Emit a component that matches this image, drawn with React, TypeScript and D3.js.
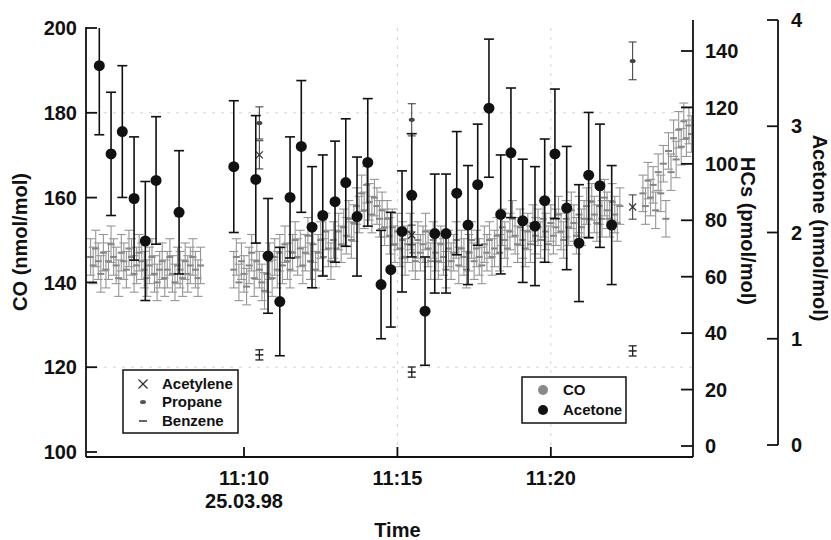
import React from 'react';
import * as d3 from 'd3';

const parseTime = d3.timeParse('%H:%M:%S');

// CO (nmol/mol), 5 s samples, three continuous stretches
const coStarts = ['11:05:00', '11:09:40', '11:23:00'];
const coStep = 5; // seconds
const coSegment1 = [
  146, 144, 148, 145, 142, 147, 143, 145, 149, 146, 144, 141, 147, 145, 143, 148, 146, 142, 144, 147,
  145, 143, 141, 144, 146, 142, 140, 143, 145, 141, 143, 146, 142, 140, 144, 143, 141, 145, 142, 144,
  146, 143, 141, 144,
];
const coSegment2 = [
  143, 146, 140, 145, 142, 139, 144, 147, 141, 145, 143, 140, 138, 142, 145, 141, 146, 143, 147, 144,
  149, 145, 143, 147, 150, 146, 148, 144, 147, 151, 145, 149, 143, 147, 150, 146, 152, 148, 145, 150,
  148, 152, 149, 153, 151, 155, 150, 154, 158, 156, 161, 157, 163, 159, 156, 160, 158, 155, 157, 153,
  155, 151, 153, 149, 152, 148, 150, 146, 149, 152, 147, 145, 150, 147, 149, 152, 148, 145, 150, 147,
  145, 149, 146, 143, 148, 145, 147, 150, 144, 148, 146, 143, 147, 150, 145, 148, 146, 144, 149, 147,
  150, 146, 148, 151, 147, 153, 150, 148, 152, 155, 151, 149, 153, 150, 148, 152, 149, 154, 151, 153,
  150, 155, 152, 149, 154, 151, 153, 156, 152, 150, 155, 153, 157, 154, 151, 156, 153, 155, 158, 155,
  159, 156, 154, 158, 155, 160, 157, 155, 159, 156, 154, 158,
];
const coSegment3 = [161, 158, 164, 160, 163, 157, 166, 161, 168, 155, 171, 166, 174, 169, 176, 172, 178, 174, 177, 175];
const coError = 4.3;

// Acetone (nmol/mol)
const acetoneTimes = [
  '11:05:17', '11:05:40', '11:06:02', '11:06:25', '11:06:47', '11:07:08', '11:07:53', '11:09:40', '11:10:23', '11:10:47',
  '11:11:10', '11:11:30', '11:11:52', '11:12:13', '11:12:34', '11:12:58', '11:13:19', '11:13:41', '11:14:02', '11:14:28',
  '11:14:47', '11:15:09', '11:15:28', '11:15:54', '11:16:13', '11:16:35', '11:16:56', '11:17:18', '11:17:37', '11:17:59',
  '11:18:22', '11:18:42', '11:19:05', '11:19:29', '11:19:48', '11:20:08', '11:20:31', '11:20:55', '11:21:14', '11:21:36',
  '11:21:59',
];
const acetoneValues = [
  3.57, 2.74, 2.95, 2.32, 1.92, 2.49, 2.19, 2.62, 2.5, 1.78,
  1.35, 2.33, 2.81, 2.05, 2.16, 2.29, 2.47, 2.15, 2.66, 1.51,
  1.65, 2.01, 2.35, 1.26, 1.99, 1.99, 2.37, 2.07, 2.45, 3.17,
  2.17, 2.75, 2.11, 2.06, 2.3, 2.74, 2.23, 1.9, 2.54, 2.44,
  2.07,
];
const acetoneErrors = [
  0.65, 0.58, 0.62, 0.58, 0.56, 0.6, 0.58, 0.62, 0.6, 0.54,
  0.51, 0.57, 0.62, 0.57, 0.57, 0.57, 0.6, 0.56, 0.6, 0.51,
  0.54, 0.57, 0.58, 0.51, 0.56, 0.56, 0.58, 0.56, 0.57, 0.65,
  0.56, 0.61, 0.58, 0.56, 0.58, 0.61, 0.58, 0.55, 0.59, 0.58,
  0.56,
];

// hydrocarbons (pmol/mol), canister samples
const hcTimes = ['11:10:30', '11:15:28', '11:22:40'];
const acetylene = [103.2, 74.8, 84.7];
const acetyleneErr = [5.0, 3.5, 4.3];
const propane = [114.5, 115.6, 136.5];
const propaneErr = [5.7, 5.7, 6.7];
const benzene = [32.3, 26.2, 33.7];
const benzeneErr = [1.8, 1.8, 1.8];

const coTicks = [100, 120, 140, 160, 180, 200];
const hcTicks = [0, 20, 40, 60, 80, 100, 120, 140];
const acetoneTicks = [0, 1, 2, 3, 4];
const timeTicks = ['11:10:00', '11:15:00', '11:20:00'];

const font = '"Liberation Sans", Arial, Helvetica, sans-serif';

export default function App() {
  const x = d3.scaleTime()
    .domain([parseTime('11:04:51'), parseTime('11:24:38')])
    .range([86, 693]);
  const yCO = d3.scaleLinear().domain([100, 200]).range([452, 28]);
  const yHC = d3.scaleLinear().domain([0, 140]).range([446, 51]);
  const yAc = d3.scaleLinear().domain([0, 4]).range([445, 20]);

  const left = 86, right = 693, bottom = 457, acAxisX = 778;

  const coPoints = [];
  [coSegment1, coSegment2, coSegment3].forEach((seg, s) => {
    const start = parseTime(coStarts[s]);
    seg.forEach((v, i) => {
      coPoints.push({ t: d3.timeSecond.offset(start, i * coStep), v });
    });
  });

  const errBar = (cx, y0, y1, cap, color, w, key) => (
    <g key={key} stroke={color} strokeWidth={w} fill="none">
      <line x1={cx} x2={cx} y1={y0} y2={y1} />
      <line x1={cx - cap} x2={cx + cap} y1={y0} y2={y0} />
      <line x1={cx - cap} x2={cx + cap} y1={y1} y2={y1} />
    </g>
  );

  const cross = (cx, cy, r, key) => (
    <g key={key} stroke="#333" strokeWidth={1.2}>
      <line x1={cx - r} x2={cx + r} y1={cy - r} y2={cy + r} />
      <line x1={cx - r} x2={cx + r} y1={cy + r} y2={cy - r} />
    </g>
  );

  return (
    <svg width={831} height={540} style={{ position: 'absolute', left: 0, top: 0, background: '#fff' }}
      fontFamily={font} fontWeight="bold">
      <defs>
        <clipPath id="plot">
          <rect x={left} y={28} width={right - left} height={bottom - 28} />
        </clipPath>
      </defs>

      {/* faint grid */}
      <g stroke="#d4d4d4" strokeWidth={1} strokeDasharray="3,6">
        {[120, 180].map(v => <line key={v} x1={left} x2={right} y1={yCO(v)} y2={yCO(v)} />)}
        {timeTicks.slice(1).map(t => <line key={t} x1={x(parseTime(t))} x2={x(parseTime(t))} y1={28} y2={bottom} />)}
      </g>

      <g clipPath="url(#plot)">
        {/* CO cloud */}
        {coPoints.map((p, i) => {
          const cx = x(p.t);
          return (
            <g key={'co' + i}>
              {errBar(cx, yCO(p.v + coError), yCO(p.v - coError), 4.5, '#969696', 1.1, 'e')}
              <line x1={cx - 3.5} x2={cx + 3.5} y1={yCO(p.v)} y2={yCO(p.v)} stroke="#848484" strokeWidth={2} />
            </g>
          );
        })}

        {/* hydrocarbons */}
        {hcTimes.map((t, i) => {
          const cx = x(parseTime(t));
          return (
            <g key={'hc' + i}>
              {errBar(cx, yHC(propane[i] + propaneErr[i]), yHC(propane[i] - propaneErr[i]), 4, '#333', 1, 'pe')}
              <ellipse cx={cx} cy={yHC(propane[i])} rx={3} ry={2} fill="#444" />
              {errBar(cx, yHC(acetylene[i] + acetyleneErr[i]), yHC(acetylene[i] - acetyleneErr[i]), 4, '#333', 1, 'ae')}
              {cross(cx, yHC(acetylene[i]), 3.5, 'ax')}
              {errBar(cx, yHC(benzene[i] + benzeneErr[i]), yHC(benzene[i] - benzeneErr[i]), 4, '#222', 1.3, 'be')}
              <line x1={cx - 4} x2={cx + 4} y1={yHC(benzene[i])} y2={yHC(benzene[i])} stroke="#222" strokeWidth={1.5} />
            </g>
          );
        })}

        {/* acetone */}
        {acetoneTimes.map((t, i) => {
          const cx = x(parseTime(t));
          const v = acetoneValues[i], e = acetoneErrors[i];
          return (
            <g key={'ac' + i}>
              {errBar(cx, yAc(v + e), yAc(v - e), 5, '#111', 1.6, 'e')}
              <circle cx={cx} cy={yAc(v)} r={5.5} fill="#111" />
            </g>
          );
        })}
      </g>

      {/* axes */}
      <g stroke="#111" strokeWidth={1.8}>
        <line x1={left} x2={left} y1={27} y2={bottom} />
        <line x1={left} x2={right} y1={bottom} y2={bottom} />
        <line x1={right} x2={right} y1={20} y2={bottom} />
        <line x1={acAxisX} x2={acAxisX} y1={yAc(4)} y2={yAc(0)} />
        {coTicks.map(v => <line key={'ct' + v} x1={left} x2={left + 11} y1={yCO(v)} y2={yCO(v)} />)}
        {hcTicks.map(v => <line key={'ht' + v} x1={right - 12} x2={right} y1={yHC(v)} y2={yHC(v)} />)}
        {acetoneTicks.map(v => <line key={'at' + v} x1={acAxisX - 11} x2={acAxisX} y1={yAc(v)} y2={yAc(v)} />)}
        {timeTicks.map(t => <line key={'tt' + t} x1={x(parseTime(t))} x2={x(parseTime(t))} y1={bottom - 10} y2={bottom} />)}
      </g>

      <g fontSize={20} fill="#111">
        {coTicks.map(v => (
          <text key={'cl' + v} x={77} y={yCO(v)} dy="0.36em" textAnchor="end">{v}</text>
        ))}
        {hcTicks.map(v => (
          <text key={'hl' + v} x={705} y={yHC(v)} dy="0.36em">{v}</text>
        ))}
        {acetoneTicks.map(v => (
          <text key={'al' + v} x={791} y={yAc(v)} dy="0.36em">{v}</text>
        ))}
        {timeTicks.map(t => (
          <text key={'xl' + t} x={x(parseTime(t))} y={485} textAnchor="middle">{d3.timeFormat('%H:%M')(parseTime(t))}</text>
        ))}
        <text x={x(parseTime(timeTicks[0]))} y={508} textAnchor="middle">25.03.98</text>
        <text x={x(parseTime(timeTicks[1]))} y={537} textAnchor="middle">Time</text>
      </g>

      <g fontSize={20} fill="#111">
        <text transform="translate(27,242) rotate(-90)" textAnchor="middle">CO (nmol/mol)</text>
        <text transform="translate(741,231) rotate(90)" textAnchor="middle">HCs (pmol/mol)</text>
        <text transform="translate(813,228) rotate(90)" textAnchor="middle">Acetone (nmol/mol)</text>
      </g>

      {/* legend: hydrocarbons */}
      <g>
        <rect x={123} y={370} width={115} height={63} fill="#fff" stroke="#111" strokeWidth={1.5} />
        {cross(143, 384, 4.5, 'lx')}
        <ellipse cx={143} cy={402} rx={3} ry={2} fill="#555" />
        <line x1={139} x2={147} y1={421} y2={421} stroke="#333" strokeWidth={1.5} />
        <g fontSize={15} fill="#111">
          <text x={162} y={389}>Acetylene</text>
          <text x={162} y={407}>Propane</text>
          <text x={162} y={426}>Benzene</text>
        </g>
      </g>

      {/* legend: CO / acetone */}
      <g>
        <rect x={522} y={377} width={104} height={46} fill="#fff" stroke="#111" strokeWidth={1.5} />
        <circle cx={543} cy={390} r={5} fill="#8a8a8a" />
        <circle cx={543} cy={410} r={5} fill="#111" />
        <g fontSize={15} fill="#111">
          <text x={563} y={395}>CO</text>
          <text x={563} y={415}>Acetone</text>
        </g>
      </g>
    </svg>
  );
}
